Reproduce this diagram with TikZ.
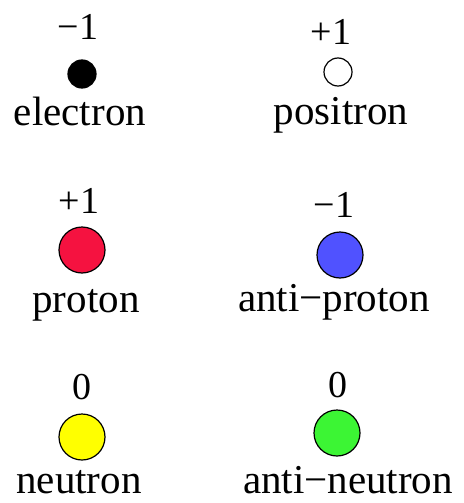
\documentclass[tikz,border=0pt]{standalone}
\usepackage{fontspec}
\setmainfont{Liberation Serif}
\definecolor{pred}{RGB}{245,18,64}
\definecolor{pblue}{RGB}{80,82,255}
\definecolor{pyellow}{RGB}{255,255,0}
\definecolor{pgreen}{RGB}{60,245,52}
\begin{document}
\begin{tikzpicture}[x=1pt,y=-1pt,
  charge/.style={anchor=base,inner sep=0pt,font=\fontsize{38}{38}\selectfont},
  pname/.style={anchor=base,inner sep=0pt,font=\fontsize{41}{41}\selectfont},
  small/.style={circle,draw=black,line width=1.2pt,minimum size=28pt,inner sep=0pt},
  big/.style={circle,draw=black,line width=1.2pt,minimum size=46pt,inner sep=0pt}]
\useasboundingbox (0,0) rectangle (463,503);
% row 1
\node[charge] (c1) at (78,40) {−1};
\node[small,fill=black] (e) at (82,74) {};
\node[pname] (n1) at (80,125) {electron};
\node[charge] (c2) at (331,45) {+1};
\node[small,fill=white] (pos) at (338,72) {};
\node[pname] (n2) at (341,124) {positron};
% row 2
\node[charge] (c3) at (79,213) {+1};
\node[big,fill=pred] (p) at (82,250) {};
\node[pname] (n3) at (86,312) {proton};
\node[charge] (c4) at (334,217) {−1};
\node[big,fill=pblue] (ap) at (340,255) {};
\node[pname] (n4) at (334,311) {anti−proton};
% row 3
\node[charge] (c5) at (82,399) {0};
\node[big,fill=pyellow] (n) at (82,437) {};
\node[pname] (n5) at (79,493) {neutron};
\node[charge] (c6) at (338,397) {0};
\node[big,fill=pgreen] (an) at (337,433) {};
\node[pname] (n6) at (348,493) {anti−neutron};
\end{tikzpicture}
\end{document}
